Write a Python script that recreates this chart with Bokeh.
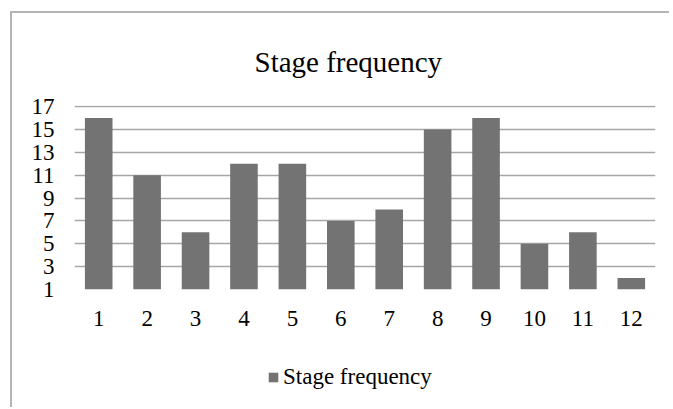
from bokeh.plotting import figure
from bokeh.models import ColumnDataSource, FactorRange, Range1d, FixedTicker, Legend, LegendItem
from bokeh.layouts import column
from bokeh.embed import file_html
from bokeh.resources import INLINE

stages = ["1", "2", "3", "4", "5", "6", "7", "8", "9", "10", "11", "12"]
frequency = [16, 11, 6, 12, 12, 7, 8, 15, 16, 5, 6, 2]
y_ticks = [1, 3, 5, 7, 9, 11, 13, 15, 17]
series_name = "Stage frequency"
title_text = "Stage frequency"

FONT = "Liberation Serif"
BAR = "#737373"
GRID = "#a6a6a6"
FRAME_BORDER = "#b4b4b4"

src = ColumnDataSource(dict(stage=stages, freq=frequency, base=[y_ticks[0]] * len(stages)))

p = figure(
    frame_width=581, frame_height=184,
    x_range=FactorRange(factors=stages, range_padding=0),
    y_range=Range1d(y_ticks[0], y_ticks[-1] + 0.09),
    output_backend="svg", toolbar_location=None,
    min_border_left=62, min_border_right=14, min_border_top=92, min_border_bottom=64,
)

p.vbar(x="stage", top="freq", bottom="base", width=0.57, source=src,
       fill_color=BAR, line_color=None)

p.title.text = title_text
p.title.text_font = FONT
p.title.text_font_size = "29px"
p.title.text_font_style = "normal"
p.title.text_color = "black"
p.title.align = "left"
p.title.offset = 180
p.title.standoff = 56

p.outline_line_color = None
p.background_fill_color = "white"
p.border_fill_color = "white"

p.xgrid.grid_line_color = None
p.ygrid.grid_line_color = GRID
p.ygrid.grid_line_width = 1.6

p.yaxis.ticker = FixedTicker(ticks=y_ticks)
for ax in (p.xaxis[0], p.yaxis[0]):
    ax.axis_line_color = None
    ax.major_tick_line_color = None
    ax.minor_tick_line_color = None
    ax.major_tick_out = 0
    ax.major_tick_in = 0
    ax.major_label_text_font = FONT
    ax.major_label_text_font_size = "23px"
    ax.major_label_text_color = "black"
p.yaxis.major_label_standoff = 20
p.xaxis.major_label_standoff = 21

# legend strip below the chart (its series renderer draws nothing visible)
leg = figure(
    width=657, height=54,
    x_range=FactorRange(factors=stages), y_range=Range1d(-2, -1),
    output_backend="svg", toolbar_location=None,
    x_axis_location=None, y_axis_location=None,
    min_border_left=0, min_border_right=0, min_border_top=0, min_border_bottom=0,
)
leg.grid.grid_line_color = None
leg.outline_line_color = None
r2 = leg.vbar(x="stage", top="freq", bottom="base", width=0, source=src,
              fill_color=BAR, line_color=None)
legend = Legend(items=[LegendItem(label=series_name, renderers=[r2])],
                location=(193, 17), orientation="horizontal",
                glyph_width=12, glyph_height=12, label_standoff=4,
                padding=0, margin=0, spacing=0,
                border_line_color=None, background_fill_alpha=0,
                label_text_font=FONT, label_text_font_size="23px",
                label_text_color="black")
leg.add_layout(legend, "center")

layout = column(p, leg, spacing=0)
layout.styles = {"margin-left": "10px", "margin-top": "11px",
                 "border-left": "2px solid " + FRAME_BORDER,
                 "border-top": "2px solid " + FRAME_BORDER}

open("out.html", "w").write(file_html(layout, INLINE))
